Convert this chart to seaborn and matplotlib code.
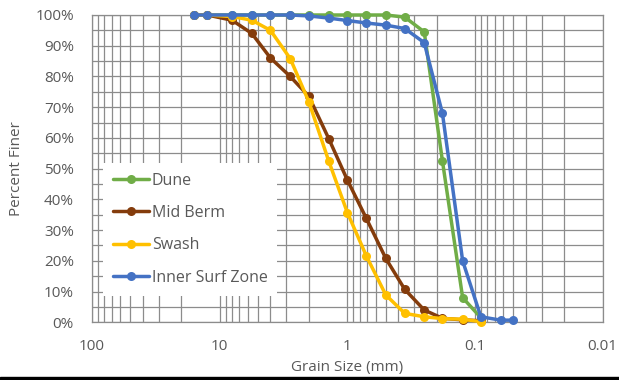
import numpy as np
import pandas as pd
import seaborn as sns
import matplotlib.pyplot as plt
from matplotlib.ticker import FixedLocator, FuncFormatter, MultipleLocator, LogLocator
from matplotlib.patches import Rectangle

sns.set_theme(style="white")
plt.rcParams['font.family'] = ['Open Sans', 'DejaVu Sans']

# sieve sizes (mm)
sizes = [16, 12.5, 8, 5.6, 4, 2.8, 2, 1.4, 1, 0.71, 0.5, 0.355, 0.25, 0.18, 0.125, 0.09, 0.063, 0.05]

# percent finer for each sample
dune = [100, 100, 100, 100, 100, 100, 100, 100, 100, 100, 100, 99.3, 94.5, 52.5, 8, 1.5]
mid_berm = [100, 100, 98.3, 94, 86, 80, 73.5, 59.8, 46.3, 33.8, 20.8, 10.7, 4, 1.3, 0.8, 0.5]
swash = [100, 100, 99.5, 98.3, 95, 85.8, 71.7, 52.5, 35.7, 21.6, 8.9, 2.9, 1.8, 1.2, 1.0, 0.2]
inner_surf = [100, 100, 100, 100, 100, 100, 99.7, 99, 98.2, 97.4, 96.7, 95.6, 91, 68, 20, 1.8, 0.7, 0.7]

series = [
    ("Dune", dune, "#70AD47"),
    ("Mid Berm", mid_berm, "#843C0C"),
    ("Swash", swash, "#FFC000"),
    ("Inner Surf Zone", inner_surf, "#4472C4"),
]

text_col = "#595959"
grid_col = "#8C8C8C"

fig = plt.figure(figsize=(6.19, 3.8), dpi=100)
ax = fig.add_axes([92 / 619, 1 - 322.3 / 380, (602.7 - 92) / 619, (322.3 - 15) / 380])

for name, vals, col in series:
    df = pd.DataFrame({"size": sizes[:len(vals)], "finer": vals})
    sns.lineplot(data=df, x="size", y="finer", ax=ax, color=col, linewidth=2.5,
                 marker="o", markersize=6.5, markeredgewidth=0, sort=False,
                 label=name, zorder=3, clip_on=False)

ax.set_xscale("log")
ax.set_xlim(100, 0.01)
ax.set_ylim(0, 100)

ax.xaxis.set_major_locator(FixedLocator([100, 10, 1, 0.1, 0.01]))
ax.xaxis.set_minor_locator(LogLocator(base=10, subs=np.arange(2, 10)))
ax.xaxis.set_major_formatter(FuncFormatter(lambda v, p: f"{v:g}"))
ax.xaxis.set_minor_formatter(FuncFormatter(lambda v, p: ""))
ax.yaxis.set_major_locator(MultipleLocator(10))
ax.yaxis.set_minor_locator(MultipleLocator(5))
ax.yaxis.set_major_formatter(FuncFormatter(lambda v, p: f"{v:.0f}%"))

ax.grid(True, which="both", color=grid_col, linewidth=0.9)
ax.set_axisbelow(True)
for s in ax.spines.values():
    s.set_color(grid_col)
    s.set_linewidth(0.9)

ax.tick_params(axis="both", which="both", length=0, colors=text_col, labelsize=11)
ax.tick_params(axis="y", pad=13)
ax.tick_params(axis="x", pad=12)

ax.set_xlabel("Grain Size (mm)", color=text_col, fontsize=11, labelpad=4)
ax.set_ylabel("Percent Finer", color=text_col, fontsize=11, labelpad=8)

leg = ax.legend(loc="upper left", bbox_to_anchor=(103 / 619, 1 - 163 / 380),
                bbox_transform=fig.transFigure, frameon=True, fancybox=False,
                edgecolor="white", framealpha=1, fontsize=11.5, labelcolor=text_col,
                handlelength=2.3, handletextpad=0.15, labelspacing=1.03,
                borderpad=0.6, borderaxespad=0)
leg.get_frame().set_linewidth(0)

# black border line at the bottom of the screenshot
fig.add_artist(Rectangle((0, 0), 1, 3.5 / 380, transform=fig.transFigure,
                         color="black", zorder=10))

fig.savefig("out.png", dpi=100)
